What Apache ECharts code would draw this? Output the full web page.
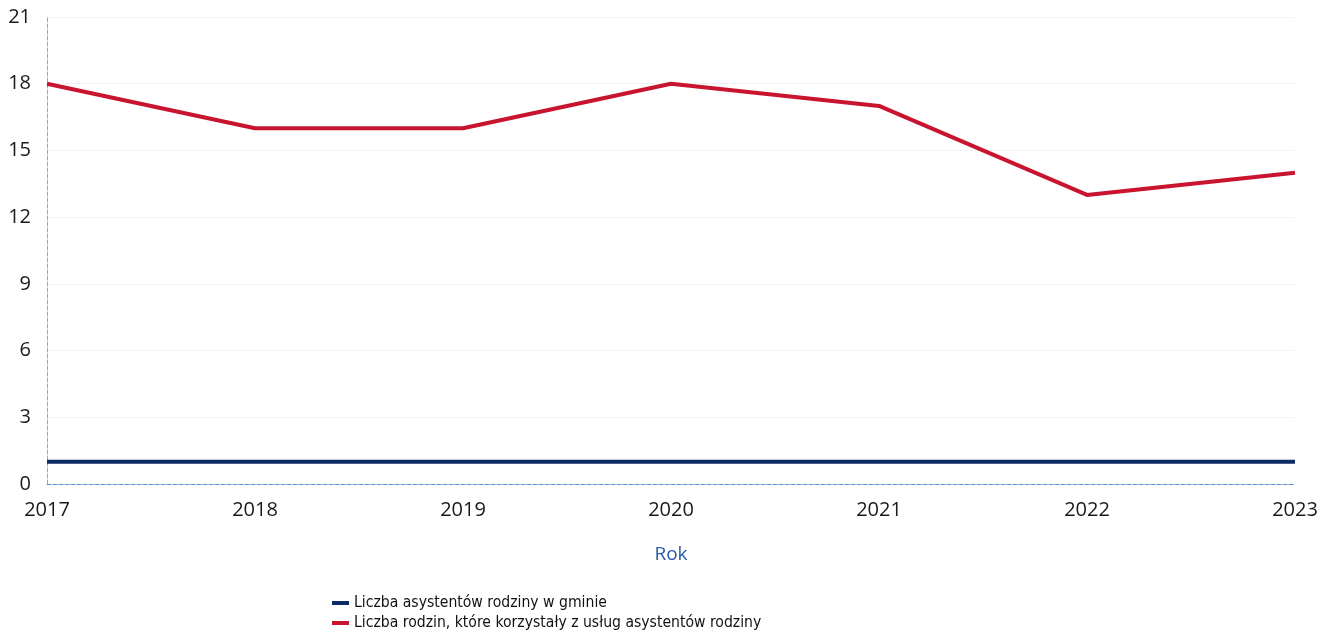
<!DOCTYPE html>
<html>
<head>
<meta charset="utf-8">
<script src="https://cdn.jsdelivr.net/npm/echarts@6/dist/echarts.min.js"></script>
<style>
  html, body { margin: 0; padding: 0; background: #fff; }
  #main { width: 1333px; height: 640px; }
</style>
</head>
<body>
<div id="main"></div>
<script>
var years = ['2017', '2018', '2019', '2020', '2021', '2022', '2023'];
var asystenci = [1, 1, 1, 1, 1, 1, 1];
var rodziny = [18, 16, 16, 18, 17, 13, 14];
var yTicks = { min: 0, max: 21, interval: 3 };

var myChart = echarts.init(document.getElementById('main'));

var option = {
    animation: false,
    grid: {
        left: 47,
        right: 38,
        top: 17,
        bottom: 156
    },
    legend: {
        orient: 'vertical',
        left: 327,
        top: 590,
        itemGap: 4,
        itemWidth: 17,
        itemHeight: 4,
        icon: 'rect',
        textStyle: {
            fontFamily: 'DejaVu Sans Condensed',
            fontSize: 15.6,
            color: '#111'
        },
        data: ['Liczba asystentów rodziny w gminie', 'Liczba rodzin, które korzystały z usług asystentów rodziny']
    },
    xAxis: {
        type: 'category',
        boundaryGap: false,
        data: years,
        name: 'Rok',
        nameLocation: 'middle',
        nameGap: 61,
        nameTextStyle: {
            fontFamily: 'Open Sans',
            fontSize: 19,
            color: '#2a5caa'
        },
        axisLine: { lineStyle: { color: '#5b8fd0', width: 1, type: 'dashed' } },
        axisTick: { show: false },
        axisLabel: {
            fontFamily: 'Open Sans',
            fontSize: 20,
            color: '#1a1a1a',
            margin: 16
        }
    },
    yAxis: {
        type: 'value',
        min: yTicks.min,
        max: yTicks.max,
        interval: yTicks.interval,
        axisLine: { show: true, lineStyle: { color: '#7fb0d8', width: 1, type: 'dashed' } },
        axisTick: { show: false },
        splitLine: { lineStyle: { color: '#e4e4e4', width: 1, type: 'dotted' } },
        axisLabel: {
            fontFamily: 'Open Sans',
            fontSize: 20,
            color: '#1a1a1a',
            margin: 16
        }
    },
    series: [{
        name: 'Liczba asystentów rodziny w gminie',
        type: 'line',
        data: asystenci,
        symbol: 'none',
        color: '#0c2a66',
        lineStyle: { width: 4, color: '#0c2a66' }
    }, {
        name: 'Liczba rodzin, które korzystały z usług asystentów rodziny',
        type: 'line',
        data: rodziny,
        symbol: 'none',
        color: '#c8142f',
        lineStyle: { width: 4, color: '#c8142f' }
    }]
};
myChart.setOption(option);
</script>
</body>
</html>
